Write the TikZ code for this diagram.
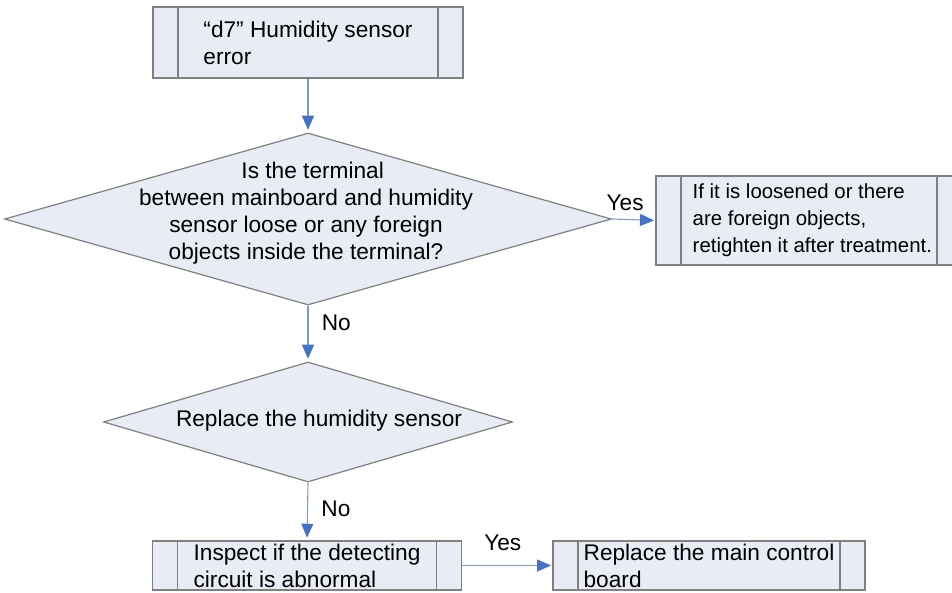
\documentclass[tikz,border=0pt]{standalone}
\usepackage{fontspec}
\setmainfont{Liberation Sans}
\usetikzlibrary{arrows.meta,positioning,shapes.geometric}
\definecolor{cfill}{RGB}{232,236,245}
\definecolor{cedge}{RGB}{128,128,128}
\definecolor{cline}{RGB}{125,155,210}
\definecolor{chead}{RGB}{68,114,196}
\tikzset{
  txt/.style={font=\fontsize{17}{20.25}\selectfont},
  % predefined process: box with two inner bars
  procbox/.style={rectangle,fill=cfill,draw=cedge,line width=0.9pt,
    align=left,inner sep=0pt,txt,
    path picture={\draw[cedge,line width=0.9pt]
      ([xshift=18.75pt]path picture bounding box.north west) --
      ([xshift=18.75pt]path picture bounding box.south west)
      ([xshift=-18.75pt]path picture bounding box.north east) --
      ([xshift=-18.75pt]path picture bounding box.south east);}},
  decision/.style={diamond,fill=cfill,draw=cedge,line width=0.9pt,
    inner sep=0pt},
  arr/.style={draw=cline,line width=0.8pt,
    -{Triangle[length=10.5pt,width=9pt,color=chead]}},
  lab/.style={txt,inner sep=2pt}
}
\begin{document}
\begin{tikzpicture}[x=0.75pt,y=-0.75pt]
  \clip (0,0) rectangle (952,592);
  \fill[white] (0,0) rectangle (952,592);
  % boxes
  \node[procbox,minimum width=232.5pt,minimum height=53.25pt] (err) at (308,42.5)
    {``d7'' Humidity sensor\\error};
  \node[decision,minimum width=455.25pt,minimum height=129pt] (q1) at (308,219) {};
  \node[txt,align=center] (q1txt) at (306,213)
    {\hspace*{10pt}Is the terminal\\between mainboard and humidity\\sensor loose or any foreign\hspace*{24pt}\\objects inside the terminal?};
  \node[procbox,minimum width=229.5pt,minimum height=66.75pt,
    font=\fontsize{15.3}{20.25}\selectfont] (fix) at (809,220.5)
    {\hspace*{5pt}If it is loosened or there\\\hspace*{5pt}are foreign objects,\\\hspace*{5pt}retighten it after treatment.};
  \node[decision,minimum width=306.75pt,minimum height=90pt] (q2) at (308,422) {};
  \node[txt] (q2txt) at (319,421) {Replace the humidity sensor};
  \node[procbox,minimum width=231.75pt,minimum height=36.75pt] (insp) at (307,565.5)
    {Inspect if the detecting\\circuit is abnormal};
  \node[procbox,minimum width=234pt,minimum height=36.75pt] (board) at (709,565.5)
    {Replace the main control\\board};
  % connectors
  \draw[arr,shorten >=2pt] (err.south) -- (q1.north);
  \draw[arr,shorten >=1pt] (q1.east) -- node[lab,above,pos=0.3,yshift=4pt] (yes1) {Yes} (fix.west);
  \draw[arr,shorten >=2pt] (q1.south) -- node[lab,right,pos=0.3,xshift=8pt] (no1) {No} (q2.north);
  \draw[arr,shorten >=2pt] (q2.south) -- node[lab,right,pos=0.45,xshift=8pt] (no2) {No} (insp.north);
  \draw[arr,shorten >=1pt] (insp.east) -- node[lab,above,pos=0.45,yshift=9pt] (yes2) {Yes} (board.west);
\end{tikzpicture}
\end{document}
